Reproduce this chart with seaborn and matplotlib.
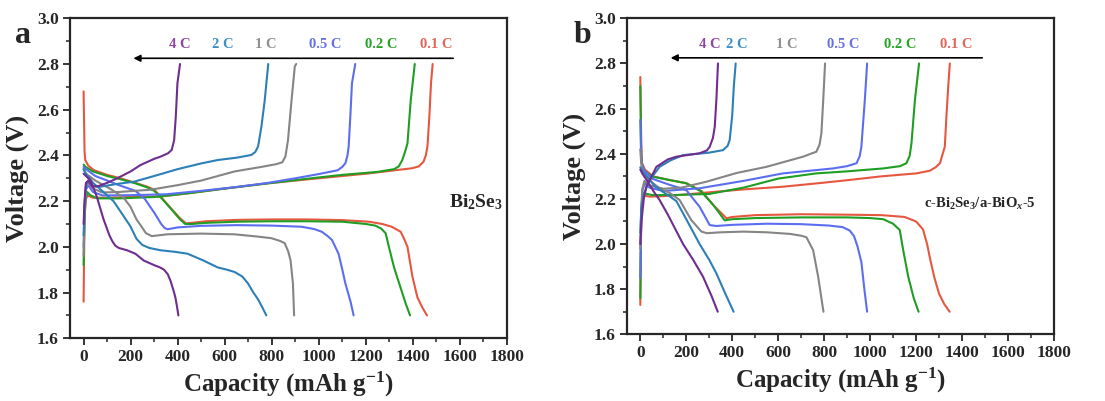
import matplotlib
matplotlib.use("Agg")
import matplotlib.pyplot as plt
from matplotlib.ticker import MultipleLocator, FormatStrFormatter
import seaborn as sns
import pandas as pd

# ---------------- data (capacity mAh/g, voltage V) ----------------
rates = ["0.1 C", "0.2 C", "0.5 C", "1 C", "2 C", "4 C"]
line_colors = ["#e5573f", "#1f9e24", "#5b6ef0", "#858585", "#2d7fb8", "#6f2d8f"]
label_colors = ["#e2665a", "#27a327", "#6670e8", "#8f8f8f", "#3d8ec7", "#8e44a0"]

# Panel a : Bi2Se3
a_01C_dis = [(0, 2.68), (2, 2.55), (4, 2.42), (7, 2.38), (20, 2.355), (43, 2.336), (100, 2.315), (157, 2.30),
             (220, 2.28), (271, 2.263), (300, 2.25), (321, 2.227), (371, 2.169), (410, 2.125), (435, 2.103),
             (460, 2.105), (520, 2.112), (650, 2.118), (800, 2.12), (950, 2.12), (1100, 2.117), (1213, 2.11),
             (1270, 2.10), (1310, 2.088), (1348, 2.066), (1365, 2.03), (1377, 2.0), (1398, 1.87), (1419, 1.78),
             (1440, 1.735), (1460, 1.70)]
a_02C_dis = [(0, 2.36), (8, 2.35), (40, 2.33), (100, 2.31), (160, 2.295), (220, 2.278), (271, 2.26), (300, 2.245),
             (321, 2.225), (371, 2.167), (410, 2.12), (432, 2.10), (460, 2.10), (520, 2.105), (650, 2.11),
             (800, 2.112), (950, 2.112), (1100, 2.11), (1200, 2.10), (1240, 2.093), (1265, 2.08), (1284, 2.06),
             (1298, 2.0), (1320, 1.91), (1348, 1.82), (1370, 1.75), (1388, 1.70)]
a_05C_dis = [(0, 2.35), (10, 2.34), (50, 2.31), (100, 2.29), (150, 2.27), (220, 2.245), (260, 2.21), (300, 2.15),
             (330, 2.10), (345, 2.082), (357, 2.077), (400, 2.085), (500, 2.092), (650, 2.095), (800, 2.093),
             (927, 2.088), (980, 2.078), (1013, 2.066), (1040, 2.045), (1056, 2.03), (1084, 1.97), (1100, 1.90),
             (1113, 1.84), (1135, 1.76), (1148, 1.70)]
a_1C_dis = [(0, 2.34), (10, 2.32), (50, 2.29), (120, 2.25), (170, 2.215), (199, 2.176), (225, 2.12), (242, 2.095),
            (265, 2.06), (290, 2.047), (357, 2.055), (500, 2.058), (640, 2.055), (740, 2.045), (798, 2.038),
            (835, 2.026), (855, 2.016), (870, 1.98), (880, 1.94), (890, 1.84), (895, 1.70)]
a_2C_dis = [(0, 2.34), (10, 2.32), (40, 2.28), (90, 2.235), (127, 2.20), (160, 2.15), (199, 2.09), (225, 2.035),
            (250, 2.008), (280, 1.995), (328, 1.985), (390, 1.978), (442, 1.97), (510, 1.94), (570, 1.91),
            (610, 1.90), (642, 1.89), (675, 1.87), (699, 1.84), (722, 1.80), (742, 1.77), (760, 1.735),
            (777, 1.70)]
a_4C_dis = [(0, 2.32), (10, 2.31), (30, 2.29), (56, 2.22), (85, 2.12), (110, 2.05), (122, 2.025), (135, 2.005),
            (150, 1.995), (185, 1.985), (220, 1.97), (256, 1.94), (300, 1.92), (325, 1.91), (342, 1.90),
            (358, 1.88), (370, 1.85), (382, 1.81), (390, 1.78), (397, 1.74), (403, 1.70)]

a_01C_chg = [(0, 1.76), (2, 1.95), (4, 2.12), (8, 2.20), (15, 2.225), (40, 2.215), (100, 2.215), (200, 2.218),
             (328, 2.22), (450, 2.235), (600, 2.255), (785, 2.278), (950, 2.295), (1070, 2.307), (1200, 2.32),
             (1283, 2.33), (1397, 2.344), (1425, 2.352), (1445, 2.372), (1455, 2.40), (1462, 2.44), (1470, 2.57),
             (1477, 2.716), (1484, 2.80)]
a_02C_chg = [(0, 1.92), (3, 2.10), (8, 2.20), (15, 2.24), (30, 2.225), (60, 2.212), (150, 2.212), (300, 2.218),
             (450, 2.235), (600, 2.255), (785, 2.278), (950, 2.298), (1100, 2.315), (1250, 2.328), (1320, 2.34),
             (1340, 2.352), (1355, 2.38), (1368, 2.42), (1377, 2.453), (1391, 2.643), (1408, 2.80)]
a_05C_chg = [(0, 2.00), (4, 2.15), (10, 2.25), (20, 2.27), (40, 2.24), (80, 2.225), (200, 2.226), (350, 2.23),
             (500, 2.245), (650, 2.262), (785, 2.28), (900, 2.30), (997, 2.318), (1080, 2.335), (1100, 2.35),
             (1113, 2.366), (1122, 2.40), (1127, 2.44), (1134, 2.57), (1141, 2.716), (1155, 2.80)]
a_1C_chg = [(0, 1.96), (4, 2.15), (10, 2.26), (20, 2.285), (40, 2.255), (80, 2.238), (150, 2.24), (285, 2.25),
            (400, 2.27), (500, 2.29), (642, 2.33), (757, 2.35), (820, 2.362), (845, 2.37), (858, 2.395),
            (869, 2.467), (884, 2.64), (898, 2.79), (904, 2.80)]
a_2C_chg = [(0, 2.05), (4, 2.18), (10, 2.27), (20, 2.29), (40, 2.265), (71, 2.263), (140, 2.275), (214, 2.285),
            (300, 2.31), (400, 2.34), (500, 2.365), (571, 2.38), (650, 2.39), (713, 2.402), (730, 2.415),
            (742, 2.44), (756, 2.526), (770, 2.64), (785, 2.80)]
a_4C_chg = [(0, 2.10), (4, 2.20), (10, 2.28), (20, 2.29), (35, 2.265), (60, 2.265), (100, 2.28), (143, 2.30),
            (200, 2.33), (242, 2.358), (300, 2.385), (328, 2.395), (360, 2.41), (375, 2.425), (385, 2.467),
            (392, 2.57), (399, 2.716), (410, 2.80)]

# Panel b : c-Bi2Se3/a-BiOx-5
b_01C_dis = [(0, 2.74), (2, 2.60), (4, 2.45), (7, 2.36), (20, 2.33), (55, 2.30), (120, 2.285), (200, 2.27),
             (266, 2.235), (320, 2.17), (375, 2.114), (400, 2.12), (500, 2.128), (700, 2.132), (900, 2.13),
             (1050, 2.128), (1150, 2.12), (1200, 2.10), (1230, 2.065), (1248, 2.0), (1262, 1.93), (1280, 1.85),
             (1300, 1.78), (1322, 1.735), (1346, 1.70)]
b_02C_dis = [(0, 2.70), (2, 2.55), (4, 2.40), (7, 2.345), (20, 2.32), (55, 2.298), (120, 2.285), (200, 2.269),
             (266, 2.232), (320, 2.17), (367, 2.105), (400, 2.11), (500, 2.115), (700, 2.118), (900, 2.118),
             (1000, 2.115), (1057, 2.11), (1100, 2.09), (1129, 2.062), (1144, 1.973), (1166, 1.855),
             (1190, 1.76), (1211, 1.70)]
b_05C_dis = [(0, 2.55), (2, 2.45), (5, 2.36), (15, 2.33), (50, 2.29), (120, 2.265), (200, 2.239), (258, 2.165),
             (302, 2.084), (330, 2.08), (400, 2.085), (550, 2.09), (700, 2.088), (820, 2.082), (880, 2.075),
             (911, 2.06), (930, 2.035), (945, 1.99), (962, 1.92), (975, 1.80), (987, 1.70)]
b_1C_dis = [(0, 2.42), (3, 2.37), (8, 2.33), (30, 2.29), (80, 2.25), (130, 2.225), (171, 2.195), (222, 2.106),
            (266, 2.055), (290, 2.048), (350, 2.052), (450, 2.055), (550, 2.052), (650, 2.045), (700, 2.037),
            (723, 2.03), (752, 1.973), (774, 1.855), (797, 1.70)]
b_2C_dis = [(0, 2.34), (10, 2.32), (30, 2.30), (60, 2.26), (100, 2.23), (130, 2.21), (157, 2.19), (200, 2.11),
            (258, 2.0), (300, 1.93), (331, 1.87), (370, 1.78), (406, 1.70)]
b_4C_dis = [(0, 2.33), (10, 2.31), (30, 2.28), (60, 2.23), (84, 2.195), (120, 2.13), (186, 2.0), (230, 1.93),
            (273, 1.855), (310, 1.77), (337, 1.70)]

b_01C_chg = [(0, 1.73), (2, 1.95), (4, 2.12), (8, 2.20), (15, 2.215), (40, 2.21), (100, 2.212), (200, 2.22),
             (331, 2.232), (450, 2.242), (621, 2.254), (800, 2.272), (911, 2.284), (1050, 2.30), (1202, 2.313),
             (1260, 2.325), (1285, 2.34), (1304, 2.358), (1325, 2.431), (1332, 2.564), (1340, 2.70),
             (1347, 2.80)]
b_02C_chg = [(0, 1.76), (2, 1.95), (4, 2.12), (8, 2.20), (15, 2.225), (52, 2.217), (150, 2.217), (300, 2.222),
             (450, 2.25), (600, 2.29), (766, 2.313), (900, 2.322), (1057, 2.335), (1130, 2.345), (1158, 2.358),
             (1172, 2.39), (1180, 2.446), (1195, 2.638), (1213, 2.80)]
b_05C_chg = [(0, 1.85), (2, 2.00), (5, 2.15), (10, 2.24), (20, 2.27), (40, 2.25), (100, 2.235), (258, 2.247),
             (450, 2.28), (621, 2.313), (839, 2.335), (900, 2.345), (941, 2.358), (955, 2.39), (962, 2.431),
             (977, 2.638), (987, 2.80)]
b_1C_chg = [(0, 1.98), (3, 2.12), (8, 2.24), (18, 2.28), (40, 2.26), (100, 2.245), (180, 2.25), (287, 2.276),
            (420, 2.315), (549, 2.342), (708, 2.387), (766, 2.409), (780, 2.44), (788, 2.49), (796, 2.638),
            (804, 2.80)]
b_2C_chg = [(0, 2.05), (4, 2.15), (15, 2.22), (41, 2.284), (84, 2.342), (130, 2.37), (186, 2.394), (250, 2.40),
            (300, 2.405), (360, 2.416), (380, 2.435), (389, 2.461), (400, 2.57), (407, 2.70), (415, 2.80)]
b_4C_chg = [(0, 2.00), (5, 2.10), (15, 2.20), (26, 2.254), (70, 2.342), (120, 2.375), (157, 2.387), (258, 2.402),
            (290, 2.415), (302, 2.431), (316, 2.47), (324, 2.52), (331, 2.638), (338, 2.80)]

panel_a = {"0.1 C": (a_01C_dis, a_01C_chg), "0.2 C": (a_02C_dis, a_02C_chg), "0.5 C": (a_05C_dis, a_05C_chg),
           "1 C": (a_1C_dis, a_1C_chg), "2 C": (a_2C_dis, a_2C_chg), "4 C": (a_4C_dis, a_4C_chg)}
panel_b = {"0.1 C": (b_01C_dis, b_01C_chg), "0.2 C": (b_02C_dis, b_02C_chg), "0.5 C": (b_05C_dis, b_05C_chg),
           "1 C": (b_1C_dis, b_1C_chg), "2 C": (b_2C_dis, b_2C_chg), "4 C": (b_4C_dis, b_4C_chg)}

# rate label positions (capacity) above the arrow
a_label_cap = [1501, 1265, 1027, 773, 592, 407]
b_label_cap = [1376, 1132, 882, 636, 418, 302]
a_arrow = (1583, 200)
b_arrow = (1500, 120)


def to_frame(panel):
    rows = []
    for rate, (dis, chg) in panel.items():
        for seg, pts in (("dis", dis), ("chg", chg)):
            for i, (c, v) in enumerate(pts):
                rows.append({"rate": rate, "seg": rate + seg, "i": i, "cap": c, "volt": v})
    return pd.DataFrame(rows)


# ---------------- style ----------------
sns.set_style("ticks")
plt.rcParams["font.family"] = ["Liberation Serif", "DejaVu Serif"]
plt.rcParams["font.weight"] = "bold"
plt.rcParams["mathtext.fontset"] = "custom"
plt.rcParams["mathtext.rm"] = "Liberation Serif:bold"
plt.rcParams["mathtext.bf"] = "Liberation Serif:bold"
plt.rcParams["mathtext.it"] = "Liberation Serif:italic:bold"
plt.rcParams["mathtext.default"] = "bf"

fig = plt.figure(figsize=(11.05, 4.01), dpi=100)
ax_a = fig.add_axes([0.0633, 0.1564, 0.3955, 0.798])
ax_b = fig.add_axes([0.5674, 0.1663, 0.3864, 0.788])

palette = dict(zip(rates, line_colors))

for ax, panel, lab_caps, arrow, letter, lx, ly in (
        (ax_a, panel_a, a_label_cap, a_arrow, "a", 0.021, 0.912),
        (ax_b, panel_b, b_label_cap, b_arrow, "b", 0.527, 0.912)):
    df = to_frame(panel)
    sns.lineplot(data=df, x="cap", y="volt", hue="rate", units="seg", estimator=None, sort=False,
                 hue_order=rates, palette=palette, legend=False, lw=1.5, ax=ax)
    ax.set_xlim(-58, 1800)
    ax.set_ylim(1.6, 3.0)
    ax.xaxis.set_major_locator(MultipleLocator(200))
    ax.xaxis.set_minor_locator(MultipleLocator(100))
    ax.yaxis.set_major_locator(MultipleLocator(0.2))
    ax.yaxis.set_minor_locator(MultipleLocator(0.1))
    ax.yaxis.set_major_formatter(FormatStrFormatter("%.1f"))
    ax.tick_params(which="major", direction="out", length=5, width=1.3, labelsize=12.5, pad=3)
    ax.tick_params(which="minor", direction="out", length=3, width=1.1)
    for lab in ax.get_xticklabels() + ax.get_yticklabels():
        lab.set_fontweight("bold")
    for sp in ax.spines.values():
        sp.set_linewidth(1.6)
        sp.set_visible(True)
    ax.set_xlabel("Capacity (mAh g$^{-1}$)", fontsize=18, fontweight="bold", labelpad=3)
    ax.set_ylabel("Voltage (V)", fontsize=19, fontweight="bold", labelpad=6)
    # arrow and rate labels
    ax.annotate("", xy=(arrow[1], 2.825), xytext=(arrow[0], 2.825),
                arrowprops=dict(arrowstyle="-|>", color="black", lw=1.2, mutation_scale=10))
    for r, c, col in zip(rates, lab_caps, label_colors):
        ax.text(c, 2.885, r, color=col, fontsize=10.5, fontweight="bold", ha="center", va="center")
    fig.text(lx, ly, letter, fontsize=23, fontweight="bold", ha="center", va="center")

ax_a.text(1667, 2.195, "Bi$_2$Se$_3$", fontsize=14, fontweight="bold", ha="center", va="center")
ax_b.text(1478, 2.178, "c-Bi$_2$Se$_3$/a-BiO$_{\\mathit{x}}$-5", fontsize=10.5, fontweight="bold",
          ha="center", va="center")

fig.savefig("out.png", dpi=100)
